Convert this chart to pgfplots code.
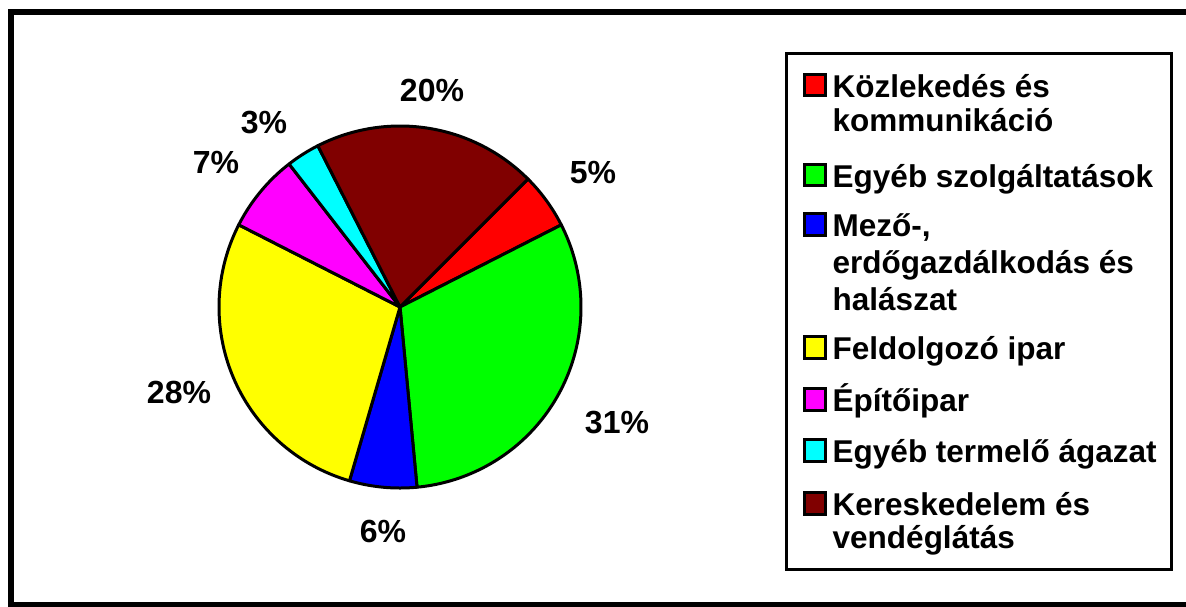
\documentclass[border=0pt]{standalone}
\usepackage{fontspec}
\setmainfont{Liberation Sans}
\usepackage{pgfplots}
\pgfplotsset{compat=1.18}
\usepackage{pgfplotstable}

\definecolor{cRed}{RGB}{255,0,0}
\definecolor{cGreen}{RGB}{0,255,0}
\definecolor{cBlue}{RGB}{0,0,255}
\definecolor{cYellow}{RGB}{255,255,0}
\definecolor{cMagenta}{RGB}{255,0,255}
\definecolor{cCyan}{RGB}{0,255,255}
\definecolor{cBrown}{RGB}{128,0,0}

% percentage labels: position (px) and value
\pgfplotstableread{
x y p
432 101 20
593 183 5
264 133 3
216 173 7
179 403 28
383 542 6
617 433 31
}\labels

% slice: colour, start angle (deg, clockwise from here), percent
\newcommand{\pieslice}[3]{%
  \addplot[forget plot, draw=black, line width=3pt, line join=round, fill=#1,
    domain={#2-3.6*#3}:{#2}, samples=90, variable=\t]
    ({400+181*cos(\t)},{307-181*sin(\t)}) -- (axis cs:400,307) -- cycle;
}
\newcommand{\legsq}[1]{\addlegendimage{legend image code/.code={\draw[draw=black,line width=3pt,fill=#1] (3.2pt,1.7pt) rectangle (23.5pt,23pt);}}}
\newcommand{\legnone}{\addlegendimage{empty legend}}
\newcommand{\ent}[2]{\addlegendentry{\rule{0pt}{#1pt}#2}}

\begin{document}
\begin{tikzpicture}
\begin{axis}[
  scale only axis, width=1186pt, height=606pt,
  xmin=0, xmax=1186, ymin=0, ymax=606, y dir=reverse,
  hide axis, clip=false,
  legend style={at={(0.66189,0.91419)}, anchor=north west, draw=black,
    line width=3pt, fill=white, inner xsep=15.2pt, inner ysep=19.5pt,
    row sep=0pt, column sep=6pt,
    font=\bfseries\fontsize{31.5}{38}\selectfont,
    nodes={inner sep=0pt, text depth=0pt, anchor=base west}},
]
\draw[line width=6pt] (axis cs:11,12) rectangle (axis cs:1195,605);

% values (percent): 5, 31, 6, 28, 7, 3, 20
\pieslice{cRed}{45}{5}
\pieslice{cGreen}{27}{31}
\pieslice{cBlue}{-84.6}{6}
\pieslice{cYellow}{-106.2}{28}
\pieslice{cMagenta}{-207}{7}
\pieslice{cCyan}{-232.2}{3}
\pieslice{cBrown}{-243}{20}

\addplot[forget plot, only marks, mark=*, mark size=0pt, mark options={draw=none,fill=none},
  nodes near coords={\pgfplotspointmeta\%}, point meta=explicit symbolic,
  every node near coord/.append style={anchor=base, inner sep=0pt, text=black,
    font=\bfseries\fontsize{32}{38}\selectfont}]
  table[x=x, y=y, meta=p] {\labels};

\legsq{cRed}\ent{24}{Közlekedés és}
\legnone\ent{34}{kommunikáció}
\legsq{cGreen}\ent{56}{Egyéb szolgáltatások}
\legsq{cBlue}\ent{49.3}{Mező-,}
\legnone\ent{37}{erdőgazdálkodás és}
\legnone\ent{37}{halászat}
\legsq{cYellow}\ent{49}{Feldolgozó ipar}
\legsq{cMagenta}\ent{52}{Építőipar}
\legsq{cCyan}\ent{51}{Egyéb termelő ágazat}
\legsq{cBrown}\ent{53}{Kereskedelem és}
\legnone\ent{33}{vendéglátás}
\legnone\ent{1}{}
\end{axis}
\pgfresetboundingbox
\path (current axis.south west) rectangle (current axis.north east);
\end{tikzpicture}
\end{document}
